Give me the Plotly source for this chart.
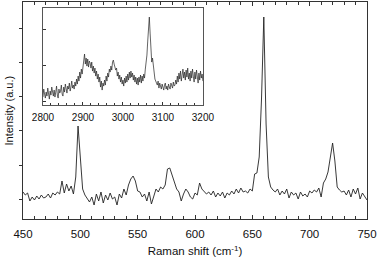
import plotly.graph_objects as go

# Main spectrum (Raman shift, cm^-1) and intensity (arb. units)
main_shift = [450, 452, 454, 456, 458, 460, 462, 464, 466, 468, 470, 472, 474, 476, 478, 480,
              482, 484, 486, 488, 490, 492, 494, 496, 498, 500, 502, 504, 506, 508, 510, 512,
              514, 516, 518, 520, 522, 524, 526, 528, 530, 532, 534, 536, 538, 540, 542, 544,
              546, 548, 550, 552, 554, 556, 558, 560, 562, 564, 566, 568, 570, 572, 574, 576,
              578, 580, 582, 584, 586, 588, 590, 592, 594, 596, 598, 600, 602, 604, 606, 608,
              610, 612, 614, 616, 618, 620, 622, 624, 626, 628, 630, 632, 634, 636, 638, 640,
              642, 644, 646, 648, 650, 652, 654, 656, 658, 660, 662, 664, 666, 668, 670, 672,
              674, 676, 678, 680, 682, 684, 686, 688, 690, 692, 694, 696, 698, 700, 702, 704,
              706, 708, 710, 712, 714, 716, 718, 720, 722, 724, 726, 728, 730, 732, 734, 736,
              738, 740, 742, 744, 746, 748, 750]
main_intensity = [27, 24, 26, 18, 22, 19, 23, 20, 24, 21, 22, 25, 21, 26, 24, 27,
                  25, 38, 26, 35, 28, 33, 25, 42, 93, 58, 30, 24, 20, 17, 22, 14,
                  25, 18, 27, 16, 24, 19, 26, 20, 22, 14, 25, 21, 30, 24, 34, 40,
                  43, 38, 28, 27, 22, 25, 18, 27, 15, 22, 30, 27, 32, 30, 34, 50,
                  51, 44, 36, 30, 27, 18, 25, 30, 27, 22, 20, 26, 24, 36, 30, 28,
                  25, 27, 24, 28, 22, 26, 23, 27, 21, 26, 24, 28, 25, 30, 26, 31,
                  27, 28, 26, 30, 28, 45, 46, 62, 120, 202, 95, 42, 32, 29, 27, 30,
                  24, 28, 25, 30, 21, 27, 24, 26, 20, 27, 23, 25, 22, 28, 26, 29,
                  27, 31, 22, 36, 40, 47, 60, 76, 58, 32, 29, 27, 28, 24, 29, 22,
                  30, 25, 31, 20, 26, 22, 19]

# Inset spectrum (C-H stretching region), 2800-3200 cm^-1 in steps of 2
inset_shift = list(range(2800, 3201, 2))
inset_intensity = [
    8, 16, 11, 7, 13, 9, 17, 12, 6, 14, 10, 18, 11, 9, 15, 8, 13, 19, 10, 7,
    16, 12, 14, 20, 11, 9, 18, 13, 21, 15, 12, 19, 16, 22, 14, 18, 24, 17, 20, 16, 23,
    19, 26, 21, 29, 24, 33, 27, 36, 31, 40,
    45, 51, 41, 47, 39, 46, 38, 44, 42, 37,
    43, 34, 39, 32, 37, 29, 34, 26, 31, 23, 28, 18, 24, 15, 22,
    19, 25, 20, 29, 24, 32, 28, 36, 33, 39, 35, 43, 45,
    41, 36, 35, 37, 29, 33, 26, 30, 23, 28, 21, 25,
    19, 27, 22, 29, 23, 31, 25, 33, 27, 34, 28, 32, 25, 30, 23, 28, 21, 27, 20, 28,
    23, 30, 22, 29, 24, 31, 27,
    36, 42, 50, 64, 82, 88, 72, 52, 43, 47, 38, 31, 26,
    24, 21, 20, 24, 17, 22, 19, 16, 21, 18, 15, 20, 22, 16, 19, 15, 21, 18, 16, 22,
    18, 17, 23, 19, 20, 25, 21,
    29, 23, 32, 26, 34, 24, 31, 36, 27, 33, 25, 35, 28, 37, 26, 32, 24, 34, 27, 36,
    29, 23, 33, 26, 35, 28, 22, 32, 25, 34, 27, 31, 24]

main_ytick_vals = [20, 54, 89, 123, 157, 191]
inset_ytick_vals = [4, 40, 76]
inset_xtick_vals = [2800, 2900, 3000, 3100, 3200]

FONT = "Liberation Sans, Arial, sans-serif"
AX = "#333333"

fig = go.Figure()
fig.add_trace(go.Scatter(x=main_shift, y=main_intensity, mode="lines",
                         line=dict(color="#222222", width=0.9), showlegend=False,
                         xaxis="x", yaxis="y"))
fig.add_trace(go.Scatter(x=inset_shift, y=inset_intensity, mode="lines",
                         line=dict(color="#222222", width=0.7), showlegend=False,
                         xaxis="x2", yaxis="y2"))

fig.update_layout(
    width=378, height=259,
    margin=dict(l=23, r=11, t=2, b=40),
    paper_bgcolor="white", plot_bgcolor="white",
    font=dict(family=FONT, color="#111111", size=11.5),
    xaxis=dict(range=[450, 750], dtick=50, tick0=450, ticks="inside", ticklen=4,
               tickwidth=1, tickcolor=AX, showline=True, linecolor=AX, linewidth=1,
               mirror="ticks", showgrid=False, zeroline=False, automargin=False,
               minor=dict(dtick=10, ticks="inside", ticklen=3, tickcolor=AX, showgrid=False),
               tickfont=dict(size=11.5), ticklabelstandoff=4,
               title=dict(text="Raman shift (cm<sup>-1</sup>)", font=dict(size=11.5), standoff=8)),
    yaxis=dict(range=[0, 217], tickvals=main_ytick_vals, showticklabels=False,
               ticks="outside", ticklen=3, tickcolor=AX, showline=True, linecolor=AX,
               linewidth=1, mirror=True, showgrid=False, zeroline=False, automargin=False),
    xaxis2=dict(domain=[0.058, 0.523], anchor="y2", range=[2800, 3200],
                tickvals=inset_xtick_vals, ticks="inside", ticklen=3, tickcolor=AX,
                showline=True, linecolor="#555555", linewidth=1, mirror=True,
                showgrid=False, zeroline=False, tickfont=dict(size=10), automargin=False,
                ticklabelstandoff=3,
                minor=dict(dtick=20, ticks="inside", ticklen=2, tickcolor=AX, showgrid=False)),
    yaxis2=dict(domain=[0.525, 0.972], anchor="x2", range=[0, 97],
                tickvals=inset_ytick_vals, showticklabels=False, ticks="inside",
                ticklen=3, tickcolor=AX, showline=True, linecolor="#555555", linewidth=1,
                mirror=True, showgrid=False, zeroline=False, automargin=False),
    annotations=[dict(text="Intensity (a.u.)", textangle=-90, xref="paper", yref="paper",
                      x=-15 / 344, y=0.5, xanchor="center", yanchor="middle",
                      showarrow=False, font=dict(size=11))],
)

fig.write_html("out.html", config={"displayModeBar": False},
               post_script="document.body.style.margin='0';document.body.style.padding='0';")
